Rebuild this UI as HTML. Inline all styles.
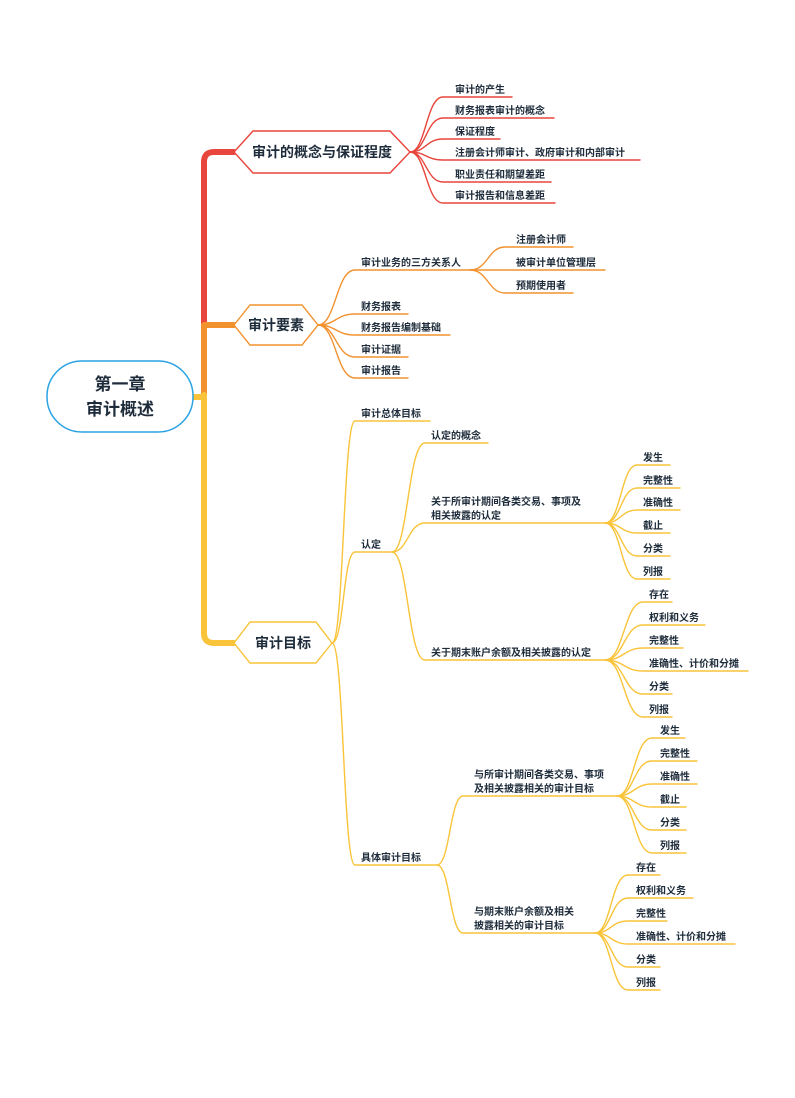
<!DOCTYPE html>
<html><head><meta charset="utf-8"><style>
html,body{margin:0;padding:0;background:#fff;}
svg{display:block;}
text{font-family:"Liberation Sans","Noto Sans CJK SC",sans-serif;font-weight:bold;fill:#1d2b3a;}
.t{font-size:10px;}
</style></head><body>
<svg width="795" height="1098" viewBox="0 0 795 1098" xmlns="http://www.w3.org/2000/svg">
<g fill="none" stroke-linecap="round">
<!-- trunk -->
<path d="M204 325 L204 162 Q204 152 214 152 L234 152" stroke="#e8453c" stroke-width="6"/>
<path d="M204 398 L204 325 M204 325 L234 325" stroke="#f2922f" stroke-width="6"/>
<path d="M193 397 L204 397 M204 395 L204 633 Q204 643 214 643 L234 643" stroke="#f9c43a" stroke-width="6"/>
<!-- branch 1 -->
<g stroke="#e8453c" stroke-width="1.4">
<path d="M410 152 C426 152 426 97 443 97 L512 97"/>
<path d="M410 152 C426 152 426 118 443 118 L554 118"/>
<path d="M410 152 C426 152 426 139 443 139 L500 139"/>
<path d="M410 152 C426 152 426 160 443 160 L640 160"/>
<path d="M410 152 C426 152 426 182 443 182 L551 182"/>
<path d="M410 152 C426 152 426 203 443 203 L555 203"/>
</g>
<!-- branch 2 -->
<g stroke="#f2922f" stroke-width="1.4">
<path d="M318 325 C336 325 336 270 355 270 L470 270"/>
<path d="M318 325 C336 325 336 314 355 314 L408 314"/>
<path d="M318 325 C336 325 336 335 355 335 L450 335"/>
<path d="M318 325 C336 325 336 357 355 357 L408 357"/>
<path d="M318 325 C336 325 336 378 355 378 L408 378"/>
<path d="M470 270 C488 270 488 247 505 247 L573 247"/>
<path d="M470 270 L605 270"/>
<path d="M470 270 C488 270 488 293 505 293 L573 293"/>
</g>
<!-- branch 3 -->
<g stroke="#f9c43a" stroke-width="1.4">
<path d="M332 643 C344 643 343 421 355 421 L430 421"/>
<path d="M332 643 C344 643 343 552 355 552 L392 552"/>
<path d="M332 643 C344 643 343 865 355 865 L437 865"/>
<path d="M392 552 C408 552 408 443 425 443 L488 443"/>
<path d="M392 552 C408 552 408 523 425 523 L605 523"/>
<path d="M392 552 C408 552 408 660 425 660 L605 660"/>
<path d="M605 523 C621 523 621 465 637 465 L670 465"/>
<path d="M605 523 C621 523 621 488 637 488 L680 488"/>
<path d="M605 523 C621 523 621 510 637 510 L680 510"/>
<path d="M605 523 C621 523 621 533 637 533 L670 533"/>
<path d="M605 523 C621 523 621 556 637 556 L670 556"/>
<path d="M605 523 C621 523 621 579 637 579 L670 579"/>
<path d="M605 660 C624 660 624 602 643 602 L672 602"/>
<path d="M605 660 C624 660 624 625 643 625 L705 625"/>
<path d="M605 660 C624 660 624 648 643 648 L683 648"/>
<path d="M605 660 C624 660 624 671 643 671 L748 671"/>
<path d="M605 660 C624 660 624 694 643 694 L672 694"/>
<path d="M605 660 C624 660 624 717 643 717 L672 717"/>
<path d="M437 865 C450 865 450 796 463 796 L617 796"/>
<path d="M437 865 C450 865 450 933 463 933 L595 933"/>
<path d="M617 796 C634 796 634 738 652 738 L685 738"/>
<path d="M617 796 C634 796 634 761 652 761 L697 761"/>
<path d="M617 796 C634 796 634 784 652 784 L697 784"/>
<path d="M617 796 C634 796 634 807 652 807 L686 807"/>
<path d="M617 796 C634 796 634 830 652 830 L686 830"/>
<path d="M617 796 C634 796 634 853 652 853 L686 853"/>
<path d="M595 933 C611 933 611 875 628 875 L660 875"/>
<path d="M595 933 C611 933 611 898 628 898 L693 898"/>
<path d="M595 933 C611 933 611 921 628 921 L667 921"/>
<path d="M595 933 C611 933 611 944 628 944 L735 944"/>
<path d="M595 933 C611 933 611 967 628 967 L660 967"/>
<path d="M595 933 C611 933 611 990 628 990 L660 990"/>
</g>
<!-- nodes -->
<rect x="47" y="361" width="146" height="71" rx="35" fill="#fff" stroke="#2aa3e3" stroke-width="1.5"/>
<polygon points="234,152 253,131 390,131 410,152 390,173 253,173" fill="#fff" stroke="#e8453c" stroke-width="1.4"/>
<polygon points="234,325 250,305 302,305 318,325 302,345 250,345" fill="#fff" stroke="#f2922f" stroke-width="1.4"/>
<polygon points="234,643 250,622 316,622 332,643 316,663 250,663" fill="#fff" stroke="#f9c43a" stroke-width="1.4"/>
</g>
<text x="120" y="390" font-size="17" text-anchor="middle">第一章</text>
<text x="120" y="415" font-size="17" text-anchor="middle">审计概述</text>
<text x="322" y="157" font-size="14" text-anchor="middle">审计的概念与保证程度</text>
<text x="276" y="330" font-size="14" text-anchor="middle">审计要素</text>
<text x="283" y="648" font-size="14" text-anchor="middle">审计目标</text>
<g class="t">
<text x="455" y="93">审计的产生</text>
<text x="455" y="114">财务报表审计的概念</text>
<text x="455" y="135">保证程度</text>
<text x="455" y="156">注册会计师审计、政府审计和内部审计</text>
<text x="455" y="178">职业责任和期望差距</text>
<text x="455" y="199">审计报告和信息差距</text>
<text x="361" y="266">审计业务的三方关系人</text>
<text x="516" y="243">注册会计师</text>
<text x="516" y="266">被审计单位管理层</text>
<text x="516" y="289">预期使用者</text>
<text x="361" y="310">财务报表</text>
<text x="361" y="331">财务报告编制基础</text>
<text x="361" y="353">审计证据</text>
<text x="361" y="374">审计报告</text>
<text x="361" y="417">审计总体目标</text>
<text x="361" y="548">认定</text>
<text x="431" y="439">认定的概念</text>
<text x="431" y="505">关于所审计期间各类交易、事项及</text>
<text x="431" y="519">相关披露的认定</text>
<text x="643" y="461">发生</text>
<text x="643" y="484">完整性</text>
<text x="643" y="506">准确性</text>
<text x="643" y="529">截止</text>
<text x="643" y="552">分类</text>
<text x="643" y="575">列报</text>
<text x="431" y="656">关于期末账户余额及相关披露的认定</text>
<text x="649" y="598">存在</text>
<text x="649" y="621">权利和义务</text>
<text x="649" y="644">完整性</text>
<text x="649" y="667">准确性、计价和分摊</text>
<text x="649" y="690">分类</text>
<text x="649" y="713">列报</text>
<text x="361" y="861">具体审计目标</text>
<text x="474" y="778">与所审计期间各类交易、事项</text>
<text x="474" y="792">及相关披露相关的审计目标</text>
<text x="660" y="734">发生</text>
<text x="660" y="757">完整性</text>
<text x="660" y="780">准确性</text>
<text x="660" y="803">截止</text>
<text x="660" y="826">分类</text>
<text x="660" y="849">列报</text>
<text x="474" y="915">与期末账户余额及相关</text>
<text x="474" y="929">披露相关的审计目标</text>
<text x="636" y="871">存在</text>
<text x="636" y="894">权利和义务</text>
<text x="636" y="917">完整性</text>
<text x="636" y="940">准确性、计价和分摊</text>
<text x="636" y="963">分类</text>
<text x="636" y="986">列报</text>
</g>
</svg>
</body></html>
